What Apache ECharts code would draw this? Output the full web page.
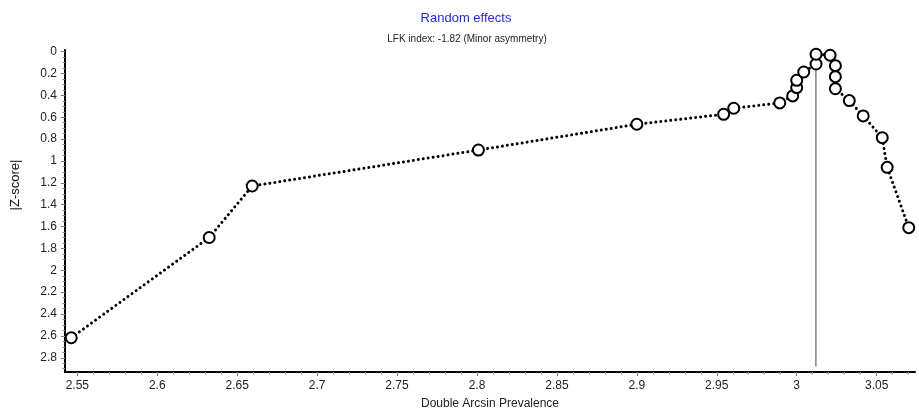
<!DOCTYPE html>
<html>
<head>
<meta charset="utf-8">
<script src="https://cdn.jsdelivr.net/npm/echarts@6/dist/echarts.min.js"></script>
<style>
html,body{margin:0;padding:0;background:#fff;}
#chart{width:919px;height:411px;}
</style>
</head>
<body>
<div id="chart"></div>
<script>
// ---- data ----
const titleText = 'Random effects';
const subtitleText = 'LFK index: -1.82 (Minor asymmetry)';
const xAxisName = 'Double Arcsin Prevalence';
const yAxisName = '|Z-score|';

const effectX = [2.5462, 2.6325, 2.6594, 2.8009, 2.9000, 2.9543, 2.9606, 2.9894, 2.9975, 3.0000, 3.0000, 3.0044,
                 3.0121, 3.0121, 3.0209, 3.0242, 3.0242, 3.0242, 3.0329, 3.0416, 3.0535, 3.0566, 3.0701];
const zScore  = [2.617, 1.700, 1.229, 0.900, 0.664, 0.573, 0.518, 0.469, 0.405, 0.329, 0.262, 0.186,
                 0.113, 0.024, 0.033, 0.128, 0.229, 0.339, 0.448, 0.588, 0.787, 1.058, 1.610];

const refLineX = 3.012;
const refLineZ = [0, 2.88];

const xTicks = [2.55, 2.6, 2.65, 2.7, 2.75, 2.8, 2.85, 2.9, 2.95, 3.0, 3.05];
const yTicks = [0, 0.2, 0.4, 0.6, 0.8, 1, 1.2, 1.4, 1.6, 1.8, 2, 2.2, 2.4, 2.6, 2.8];
const xMinorTicks = [];
for (let i = 0; i <= 52; i++) xMinorTicks.push(+(2.55 + i * 0.01).toFixed(2));
const yMinorTicks = [];
for (let i = 0; i <= 58; i++) yMinorTicks.push(+(i * 0.05).toFixed(2));

const xRange = [2.5423, 3.074];
const yRange = [-0.015, 2.93];

// ---- chart ----
const FONT = "'Liberation Sans', Arial, sans-serif";
const fmt = v => String(+(+v).toFixed(2));
const chart = echarts.init(document.getElementById('chart'), null, {renderer: 'canvas'});

const mainPts = effectX.map((x, i) => [x, zScore[i]]);
const refPts = refLineZ.map(z => [refLineX, z]);

chart.setOption({
  animation: false,
  backgroundColor: '#fff',
  textStyle: {fontFamily: FONT},
  graphic: [
    {type: 'text', left: 'center', x: 0, style: {}, silent: true, invisible: true},
    {type: 'text', x: 466, y: 18, style: {text: titleText, fill: '#1f1fff', font: "13px " + FONT, textAlign: 'center', textVerticalAlign: 'middle'}},
    {type: 'text', x: 467, y: 39, style: {text: subtitleText, fill: '#222', font: "10px " + FONT, textAlign: 'center', textVerticalAlign: 'middle'}},
    {type: 'text', x: 15, y: 185, rotation: Math.PI / 2, style: {text: yAxisName, fill: '#111', font: "13px " + FONT, textAlign: 'center', textVerticalAlign: 'middle'}}
  ],
  grid: {left: 65, right: 4, top: 50, bottom: 39, containLabel: false, outerBoundsMode: 'none'},
  xAxis: [
    {
      type: 'value', min: xRange[0], max: xRange[1], position: 'bottom',
      name: xAxisName, nameLocation: 'middle', nameGap: 26,
      nameTextStyle: {fontSize: 12, color: '#222', fontFamily: FONT},
      axisLine: {show: true, onZero: false, lineStyle: {color: '#000', width: 2}},
      axisTick: {show: true, customValues: xTicks, length: 4, lineStyle: {color: '#666', width: 1}},
      axisLabel: {show: true, customValues: xTicks, formatter: fmt, fontSize: 12, color: '#222', margin: 8, fontFamily: FONT},
      splitLine: {show: false}
    },
    {
      type: 'value', min: xRange[0], max: xRange[1], position: 'bottom',
      axisLine: {show: false, onZero: false},
      axisTick: {show: true, customValues: xMinorTicks, length: 2.5, lineStyle: {color: '#888', width: 1}},
      axisLabel: {show: false},
      splitLine: {show: false}
    }
  ],
  yAxis: [
    {
      type: 'value', inverse: true, min: yRange[0], max: yRange[1], position: 'left',
      axisLine: {show: true, onZero: false, lineStyle: {color: '#000', width: 2}},
      axisTick: {show: true, customValues: yTicks, length: 4, lineStyle: {color: '#666', width: 1}},
      axisLabel: {show: true, customValues: yTicks, formatter: fmt, fontSize: 12, color: '#222', margin: 8, fontFamily: FONT},
      splitLine: {show: false}
    },
    {
      type: 'value', inverse: true, min: yRange[0], max: yRange[1], position: 'left',
      axisLine: {show: false, onZero: false},
      axisTick: {show: true, customValues: yMinorTicks, length: 2.5, lineStyle: {color: '#888', width: 1}},
      axisLabel: {show: false},
      splitLine: {show: false}
    }
  ],
  series: [
    {
      type: 'line', data: refPts, xAxisIndex: 0, yAxisIndex: 0,
      symbol: 'none', silent: true, z: 1,
      lineStyle: {color: '#808080', width: 1.5}
    },
    {
      type: 'line', data: mainPts, xAxisIndex: 0, yAxisIndex: 0,
      symbol: 'circle', symbolSize: 11, showSymbol: true, z: 3,
      itemStyle: {color: '#fff', borderColor: '#000', borderWidth: 2},
      lineStyle: {color: '#000', width: 3, type: [0.01, 5], cap: 'round'},
      emphasis: {disabled: true}
    }
  ]
});
</script>
</body>
</html>
